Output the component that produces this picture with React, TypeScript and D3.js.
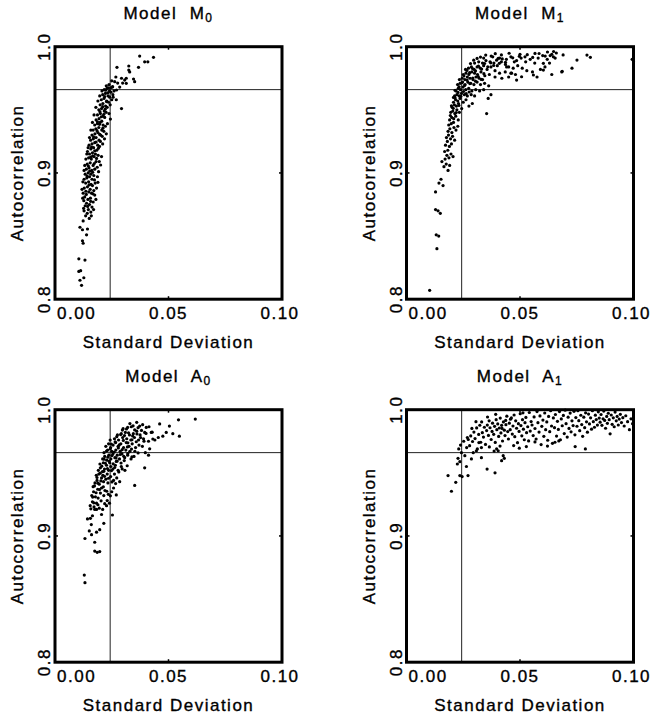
import React, { useEffect, useRef } from 'react';
import * as d3 from 'd3';

// axis ticks and labels shared by all four panels
const xTicks = [0, 0.05, 0.1];
const xTickLabels = ['0.00', '0.05', '0.10'];
const yTicks = [0.8, 0.9, 1.0];
const yTickLabels = ['0.8', '0.9', '1.0'];

// reference lines
const refX = 0.0243;
const refY = 0.966;

const panelNames = ['M', 'M', 'A', 'A'];
const panelSubs = ['0', '1', '0', '1'];

// [standard deviation, autocorrelation]
const m0Points = [
  [.0105,.832],[.0132,.831],[.0105,.822],[.0113,.8226],[.011,.815],[.0127,.817],[.0117,.811],
  [.0124,.862],[.011,.857],[.0121,.855],[.0143,.8556],[.0139,.851],[.0121,.8463],[.0124,.8443],
  [.0135,.866],[.0142,.868],[.0151,.864],[.0128,.870],[.0147,.871],[.0158,.869],[.0133,.874],[.0139,.876],
  [.0152,.875],[.0163,.873],[.0127,.878],[.0145,.879],[.0168,.877],[.0175,.8825],[.0131,.881],[.0156,.880],
  [.0124,.884],[.0138,.883],[.0149,.885],[.0161,.884],[.0171,.886],[.0129,.888],[.0143,.889],[.0155,.887],
  [.0165,.890],[.0135,.892],[.0148,.893],[.0159,.891],[.0177,.892],[.0189,.8926],[.0128,.895],[.0140,.896],
  [.0152,.897],[.0163,.895],[.0133,.899],[.0146,.900],[.0158,.899],[.0171,.898],
  [.0138,.903],[.0150,.904],[.0162,.902],[.0175,.903],[.0201,.9063],[.0142,.907],[.0155,.908],[.0168,.906],
  [.0181,.909],[.0136,.911],[.0148,.912],[.0160,.911],[.0172,.913],[.0152,.915],[.0165,.916],[.0178,.915],
  [.0190,.914],[.0143,.917],[.0158,.919],[.0170,.920],[.0184,.918],[.0196,.921],
  [.0150,.922],[.0163,.923],[.0175,.924],[.0188,.922],[.0200,.925],[.0157,.926],[.0169,.927],[.0181,.928],
  [.0194,.926],[.0208,.929],[.0163,.930],[.0176,.931],[.0189,.932],[.0201,.930],[.0215,.933],[.0168,.934],
  [.0180,.935],[.0193,.936],[.0206,.934],[.0222,.937],[.0175,.938],[.0187,.939],[.0199,.940],[.0212,.938],
  [.0181,.942],[.0194,.943],[.0206,.941],[.0219,.944],[.0244,.9427],[.0187,.946],[.0200,.947],[.0212,.945],
  [.0225,.948],[.0193,.950],[.0205,.951],[.0217,.949],[.0230,.952],[.0293,.951],[.0199,.954],[.0211,.955],
  [.0223,.953],[.0236,.956],[.0204,.958],[.0216,.959],[.0228,.957],[.0241,.960],[.0210,.962],[.0222,.963],
  [.0234,.961],[.0246,.964],[.0217,.966],[.0229,.967],[.0240,.965],[.0252,.968],[.0226,.969],[.0238,.970],
  [.0263,.9723],[.0254,.9683],[.0271,.9657],[.0276,.9712],[.0285,.968],[.0298,.9712],[.0307,.9736],
  [.0314,.971],[.0293,.975],[.0346,.9744],[.0351,.9723],[.0273,.9837],[.0325,.9847],[.0325,.9815],
  [.0329,.980],[.0368,.9837],[.0373,.9926],[.0409,.988],[.0434,.9916],[.0250,.973],[.0268,.976],
  [.0256,.960],[.0270,.958],[.0314,.975],[.0395,.988],
  [.0126,.872],[.0160,.866],[.0170,.871],[.0122,.880],[.0180,.879],[.0119,.887],[.0183,.888],[.0123,.893],
  [.0187,.897],[.0128,.902],[.0192,.901],[.0131,.906],[.0195,.909],[.0140,.915],[.0205,.913],[.0146,.920],
  [.0210,.923],[.0152,.928],[.0218,.927],[.0158,.934],[.0226,.931],[.0165,.940],[.0231,.939],[.0172,.946],
  [.0238,.947],[.0180,.952],[.0243,.954],[.0189,.957],[.0250,.958],[.0197,.961],[.0255,.962],[.0207,.965],
  [.0260,.965],
  [.0144,.8735],[.0157,.8775],[.0136,.8855],[.0167,.8835],[.0150,.8905],[.0174,.8945],[.0141,.8975],
  [.0166,.9005],[.0153,.9015],[.0147,.9055],[.0173,.9075],[.0186,.9045],[.0157,.9125],[.0183,.9115],
  [.0166,.9135],[.0175,.9175],[.0161,.9205],[.0191,.9195],[.0181,.9245],[.0170,.9285],[.0197,.9305],
  [.0185,.9335],[.0211,.9355],[.0196,.9385],[.0187,.9405],[.0204,.9445],[.0215,.9465],[.0198,.9485],
  [.0221,.9505],[.0210,.9525],[.0227,.9565],[.0219,.9605],[.0232,.9635],[.0223,.9655],[.0245,.9675],
  [.0235,.9675]
];

const m1Points = [
  [.0102,.807],[.0134,.840],[.0131,.851],[.0142,.850],[.0128,.871],[.0139,.870],[.0149,.868],[.0128,.885],
  [.0143,.892],[.0161,.890],[.0152,.895],
  [.0156,.909],[.0165,.905],[.0175,.907],[.0183,.902],[.0190,.906],[.0170,.911],[.0178,.914],[.0187,.912],
  [.0196,.915],[.0168,.917],[.0182,.918],[.0205,.913],
  [.0172,.922],[.0180,.925],[.0189,.921],[.0198,.923],[.0176,.928],[.0185,.930],[.0194,.927],[.0203,.929],
  [.0212,.926],[.0183,.933],[.0191,.935],[.0200,.932],[.0209,.936],[.0218,.934],[.0186,.938],[.0197,.939],
  [.0207,.940],[.0226,.937],
  [.0190,.942],[.0199,.944],[.0208,.943],[.0217,.945],[.0228,.942],[.0195,.948],[.0204,.949],[.0213,.947],
  [.0222,.950],[.0233,.948],[.0201,.952],[.0211,.954],[.0220,.953],[.0229,.955],[.0243,.951],[.0207,.956],
  [.0216,.958],[.0226,.957],[.0236,.959],[.0250,.956],[.0262,.958],[.0353,.947],[.0290,.955],[.0275,.953],
  [.0212,.961],[.0222,.962],[.0232,.961],[.0242,.963],[.0255,.962],[.0268,.961],[.0285,.962],[.0300,.961],
  [.0360,.959],[.0372,.962],[.0218,.965],[.0228,.967],[.0238,.966],[.0249,.968],[.0261,.966],[.0274,.967],
  [.0288,.965],[.0305,.966],[.0322,.965],[.0340,.966],[.0225,.970],[.0236,.971],[.0247,.972],[.0258,.970],
  [.0270,.972],[.0283,.971],[.0297,.970],[.0311,.972],[.0326,.970],[.0344,.971],[.0362,.969],[.0233,.974],
  [.0245,.975],[.0257,.974],[.0268,.976],[.0280,.975],[.0293,.974],[.0306,.976],[.0320,.975],[.0335,.974],
  [.0250,.978],[.0262,.979],[.0275,.978],[.0288,.980],[.0300,.979],[.0313,.978],[.0328,.980],[.0345,.977],
  [.0365,.978],[.0390,.976],[.0420,.975],[.0450,.976],[.0260,.982],[.0273,.983],[.0286,.984],[.0298,.982],
  [.0311,.984],[.0325,.983],[.0340,.985],[.0355,.982],[.0372,.984],[.0390,.981],[.0410,.979],[.0435,.980],
  [.0460,.979],[.0480,.978],[.0300,.987],[.0318,.988],[.0335,.987],[.0350,.989],[.0368,.988],[.0385,.987],
  [.0400,.985],[.0418,.988],[.0436,.986],[.0450,.984],[.0470,.983],[.0490,.985],[.0510,.983],[.0530,.981],
  [.0555,.980],
  [.0340,.991],[.0380,.992],[.0410,.991],[.0440,.990],[.0460,.992],[.0485,.989],[.0505,.991],[.0525,.988],
  [.0545,.990],[.0565,.987],[.0580,.991],[.0600,.993],[.0620,.990],[.0640,.994],[.0655,.991],[.0660,.995],
  [.0630,.987],[.0610,.984],[.0590,.982],[.0640,.978],[.0575,.976],[.0684,.980],[.0729,.983],[.0751,.9894],
  [.0795,.9934],[.0810,.9916],[.0994,.990],[.1000,.988],[.0690,.9935],[.0500,.994],[.0475,.988],
  [.0404,.9908],[.0522,.992],[.0566,.9947],[.0611,.9926],[.0633,.993],[.0647,.992],[.0603,.9868],
  [.0603,.9815],[.0559,.9776],[.0485,.9736],[.0507,.9762],[.0463,.979],[.0441,.984],[.0686,.9805],
  [.0193,.9455],[.0206,.9512],[.0219,.9478],[.0231,.9535],[.0214,.9594],[.0227,.9638],[.0239,.9607],
  [.0251,.9645],[.0263,.9628],[.0276,.9641],[.0232,.9682],[.0244,.9715],[.0256,.9693],[.0267,.9736],
  [.0279,.9708],[.0292,.9752],[.0304,.9727],[.0316,.9764],[.0329,.9741],[.0341,.9786],[.0253,.9768],
  [.0266,.9812],[.0278,.9794],[.0291,.9827],[.0304,.9808],[.0317,.9846],[.0331,.9823],[.0344,.9867],
  [.0358,.9841],[.0371,.9872],[.0384,.9851],[.0397,.9893],[.0409,.9868],[.0422,.9903],[.0436,.9877],
  [.0282,.9866],[.0296,.9893],[.0311,.9907],[.0326,.9918],[.0349,.9934],[.0373,.9926],[.0391,.9945],
  [.0418,.9935],[.0452,.9948],[.0468,.9912],[.0497,.9924],[.0532,.9937],[.0556,.9915],[.0584,.9946],
  [.0621,.9958],[.0648,.9962],[.0214,.9655],[.0207,.9598],[.0198,.9532]
];

const a0Points = [
  [.0129,.869],[.0132,.863],[.0132,.898],[.0151,.904],[.0161,.901],[.0175,.888],[.0186,.887],[.0197,.8876],
  [.0175,.895],[.0183,.903],[.0197,.905],[.0215,.910],[.0143,.9135],[.0156,.914],[.0165,.916],[.0175,.921],
  [.0253,.9166],[.0270,.9325],[.0351,.940],[.0395,.954],[.0160,.909],[.0205,.917],
  [.0183,.921],[.0190,.930],[.0200,.934],[.0215,.932],[.0183,.926],[.0195,.922],[.0210,.921],[.0227,.924],
  [.0155,.924],[.0165,.927],[.0172,.923],[.0230,.928],[.0240,.926],
  [.0162,.932],[.0170,.935],[.0178,.931],[.0188,.937],[.0205,.938],[.0220,.936],[.0235,.933],[.0250,.935],
  [.0168,.939],[.0258,.938],
  [.0176,.942],[.0185,.944],[.0195,.941],[.0205,.946],[.0214,.943],[.0224,.945],[.0233,.942],[.0245,.947],
  [.0258,.944],[.0272,.946],[.0285,.943],[.0182,.948],[.0193,.949],[.0211,.948],[.0230,.949],[.0262,.949],
  [.0191,.952],[.0200,.954],[.0209,.951],[.0218,.953],[.0227,.956],[.0236,.952],[.0246,.955],[.0255,.953],
  [.0266,.956],[.0278,.952],[.0292,.955],[.0308,.952],[.0198,.957],[.0213,.958],[.0241,.958],[.0270,.959],
  [.0210,.961],[.0219,.963],[.0228,.960],[.0237,.964],[.0246,.961],[.0255,.965],[.0264,.962],[.0274,.964],
  [.0284,.961],[.0295,.965],[.0307,.962],[.0320,.964],[.0335,.961],[.0348,.963],[.0216,.966],[.0232,.968],
  [.0250,.967],[.0268,.968],[.0287,.967],[.0312,.968],[.0330,.967],[.0398,.966],[.0412,.964],[.0417,.969],
  [.0224,.971],[.0236,.973],[.0245,.970],[.0256,.972],[.0267,.974],[.0278,.971],[.0290,.973],[.0302,.970],
  [.0314,.974],[.0326,.971],[.0340,.973],[.0355,.970],[.0370,.972],[.0385,.971],[.0243,.976],[.0262,.977],
  [.0280,.976],[.0298,.978],[.0316,.977],[.0334,.976],[.0350,.978],[.0368,.976],[.0390,.977],
  [.0275,.980],[.0292,.981],[.0310,.982],[.0328,.980],[.0345,.981],[.0360,.983],[.0375,.980],[.0395,.982],
  [.0300,.985],[.0320,.986],[.0336,.9865],[.0351,.984],[.0373,.987],[.0402,.986],[.0424,.982],[.0431,.9768],
  [.0461,.9887],[.0475,.979],[.0490,.982],[.0504,.987],[.0519,.981],[.0548,.979],[.0544,.992],[.0618,.9926],
  [.0412,.975],[.0440,.976],[.0455,.978],[.0330,.989],[.0360,.990],
  [.0158,.9215],[.0171,.9262],[.0189,.9247],[.0203,.9278],[.0219,.9256],[.0166,.9308],[.0181,.9342],
  [.0196,.9367],[.0213,.9389],[.0228,.9354],[.0244,.9318],[.0174,.9396],[.0189,.9418],[.0202,.9436],
  [.0218,.9472],[.0236,.9457],[.0251,.9428],[.0267,.9415],[.0185,.9463],[.0199,.9497],[.0215,.9512],
  [.0231,.9534],[.0249,.9518],[.0263,.9542],[.0281,.9507],[.0296,.9531],[.0206,.9553],[.0222,.9576],
  [.0239,.9592],[.0256,.9571],[.0274,.9593],[.0291,.9578],[.0305,.9597],[.0318,.9556],[.0216,.9608],
  [.0233,.9624],[.0251,.9637],[.0269,.9618],[.0287,.9645],[.0303,.9631],[.0321,.9653],[.0339,.9627],
  [.0227,.9672],[.0244,.9691],[.0261,.9664],[.0279,.9697],[.0296,.9683],[.0319,.9705],[.0337,.9688],
  [.0352,.9671],[.0366,.9658],[.0248,.9728],[.0265,.9745],[.0283,.9721],[.0301,.9757],[.0321,.9738],
  [.0339,.9762],[.0358,.9746],[.0377,.9779],[.0392,.9751],[.0272,.9786],[.0289,.9803],[.0306,.9795],
  [.0324,.9817],[.0342,.9792],[.0361,.9808],[.0381,.9836],[.0401,.9812],[.0297,.9839],[.0315,.9848],
  [.0344,.9872],[.0366,.9858],[.0386,.9881],[.0414,.9865],[.0428,.9822]
];

const a1Points = [
  [.0183,.9478],[.0198,.9354],[.0217,.9425],[.0235,.9478],[.0245,.947],[.0271,.9478],[.0224,.957],
  [.0235,.9588],[.0227,.9615],[.0230,.9689],[.0242,.966],[.0257,.9636],[.0264,.955],[.0286,.961],
  [.0294,.966],[.0308,.9675],[.0330,.962],[.0355,.953],[.0390,.950],[.0419,.9596],[.0431,.9615],
  [.0426,.9636],[.0404,.9675],[.0397,.969],[.0330,.970],[.0319,.974],[.0238,.972],[.0252,.975],
  [.0265,.970],[.0268,.978],
  [.0278,.9715],[.0283,.9792],[.0291,.9748],[.0297,.9823],[.0302,.9771],[.0309,.9856],[.0312,.9689],
  [.0318,.9804],[.0323,.9877],[.0327,.9742],[.0334,.9818],[.0339,.9783],[.0343,.9861],[.0348,.9725],
  [.0288,.9852],[.0306,.9905],[.0331,.9903],[.0272,.9764],
  [.0353,.9835],[.0356,.9878],[.0361,.9796],[.0364,.9912],[.0368,.9857],[.0373,.9764],[.0377,.9828],
  [.0379,.9893],[.0384,.9805],[.0388,.9868],[.0391,.9741],[.0395,.9921],[.0398,.9842],[.0402,.9887],
  [.0406,.9788],[.0409,.9855],[.0413,.9934],[.0416,.9816],[.0419,.9876],[.0423,.9752],[.0427,.9903],
  [.0431,.9838],[.0434,.9795],[.0438,.9881],[.0442,.9949],[.0446,.9827],[.0449,.9768],[.0365,.9705],
  [.0386,.9672],[.0412,.9712],[.0357,.9942],[.0393,.9963],[.0421,.9852],[.0437,.9915],
  [.0453,.9893],[.0457,.9842],[.0462,.9935],[.0466,.9807],[.0469,.9871],[.0474,.9958],[.0477,.9786],
  [.0481,.9912],[.0485,.9853],[.0489,.9739],[.0493,.9889],[.0496,.9828],[.0501,.9968],[.0504,.9874],
  [.0508,.9793],[.0511,.9921],[.0515,.9846],[.0519,.9762],[.0522,.9897],[.0526,.9939],[.0529,.9818],
  [.0534,.9865],[.0538,.9753],[.0541,.9978],[.0545,.9831],[.0549,.9906],[.0472,.9716],[.0497,.9695],
  [.0528,.9708],[.0458,.9925],[.0513,.9975],
  [.0553,.9879],[.0558,.9795],[.0562,.9943],[.0566,.9851],[.0571,.9768],[.0575,.9985],[.0579,.9897],
  [.0584,.9823],[.0588,.9951],[.0593,.9724],[.0596,.9868],[.0601,.9918],[.0605,.9789],[.0609,.9974],
  [.0613,.9842],[.0618,.9903],[.0622,.9758],[.0626,.9947],[.0631,.9826],[.0635,.9992],[.0639,.9871],
  [.0643,.9734],[.0647,.9935],[.0566,.9745],[.0621,.9712],
  [.0652,.9858],[.0656,.9962],[.0661,.9791],[.0665,.9908],[.0669,.9844],[.0674,.9985],[.0678,.9762],
  [.0682,.9927],[.0686,.9873],[.0691,.9955],[.0695,.9811],[.0699,.9996],[.0703,.9889],[.0708,.9783],
  [.0712,.9941],[.0716,.9852],[.0721,.9973],[.0725,.9825],[.0729,.9912],[.0734,.9874],[.0738,.9987],
  [.0742,.9801],[.0746,.9938],[.0654,.9742],[.0671,.9753],
  [.0751,.9869],[.0755,.9992],[.0759,.9913],[.0763,.9834],[.0768,.9956],[.0772,.9882],[.0776,.9789],
  [.0781,.9941],[.0785,.9858],[.0789,.9975],[.0793,.9904],[.0797,.9822],[.0802,.9965],[.0806,.9887],
  [.0811,.9936],[.0815,.9846],[.0819,.9992],[.0823,.9905],[.0828,.9861],[.0832,.9957],[.0836,.9922],
  [.0841,.9878],[.0845,.9983],[.0849,.9934],[.0743,.9708],[.0788,.9689],
  [.0853,.9901],[.0857,.9962],[.0861,.9876],[.0866,.9928],[.0869,.9989],[.0873,.9915],[.0877,.9853],
  [.0882,.9947],[.0885,.9892],[.0889,.9972],[.0893,.9921],[.0897,.9809],[.0902,.9958],[.0906,.9884],
  [.0911,.9936],[.0915,.9865],[.0919,.9981],[.0924,.9912],[.0928,.9947],[.0933,.9879],[.0937,.9926],
  [.0942,.9963],[.0947,.9898],[.0953,.9937],[.0959,.9871],[.0966,.9952],[.0974,.9905],[.0982,.9842],
  [.0989,.9928],[.0996,.9889]
];

const App = () => {
  const ref = useRef(null);
  const width = 650;
  const height = 718;

  useEffect(() => {
    const svg = d3.select(ref.current);
    svg.selectAll('*').remove();

    const boxW = 227;
    const boxH = 252.5;
    const lefts = [55, 406.5];
    const tops = [46.7, 409.7];
    const font = '"Liberation Sans", Arial, sans-serif';
    const allData = [m0Points, m1Points, a0Points, a1Points];

    allData.forEach((pts, i) => {
      const left = lefts[i % 2];
      const top = tops[Math.floor(i / 2)];
      const x = d3.scaleLinear().domain([0, 0.1]).range([0, boxW]);
      const y = d3.scaleLinear().domain([0.8, 1.0]).range([boxH, 0]);

      const g = svg.append('g').attr('transform', `translate(${left},${top})`);

      // reference lines
      g.append('line')
        .attr('x1', x(refX)).attr('x2', x(refX))
        .attr('y1', 0).attr('y2', boxH)
        .attr('stroke', '#222').attr('stroke-width', 1);
      g.append('line')
        .attr('x1', 0).attr('x2', boxW)
        .attr('y1', y(refY)).attr('y2', y(refY))
        .attr('stroke', '#222').attr('stroke-width', 1);

      // points
      g.selectAll('circle')
        .data(pts)
        .enter()
        .append('circle')
        .attr('cx', d => x(d[0]))
        .attr('cy', d => y(d[1]))
        .attr('r', 1.6)
        .attr('fill', '#000');

      // frame
      g.append('rect')
        .attr('width', boxW).attr('height', boxH)
        .attr('fill', 'none').attr('stroke', '#000').attr('stroke-width', 3);

      // small inward ticks at the middle values
      [0, boxH].forEach(yy => {
        g.append('line')
          .attr('x1', x(0.05)).attr('x2', x(0.05))
          .attr('y1', yy).attr('y2', yy === 0 ? 3 : boxH - 3)
          .attr('stroke', '#000').attr('stroke-width', 1.5);
      });
      [0, boxW].forEach(xx => {
        g.append('line')
          .attr('x1', xx).attr('x2', xx === 0 ? 3 : boxW - 3)
          .attr('y1', y(0.9)).attr('y2', y(0.9))
          .attr('stroke', '#000').attr('stroke-width', 1.5);
      });

      const text = (sel) => sel
        .attr('font-family', font)
        .attr('font-size', 17)
        .attr('letter-spacing', 1.5)
        .attr('fill', '#000')
        .attr('stroke', '#000')
        .attr('stroke-width', 0.35);

      // x tick labels
      const anchors = ['start', 'middle', 'middle'];
      const shifts = [2, 0, -2];
      xTicks.forEach((t, k) => {
        g.append('text')
          .call(text)
          .attr('x', x(t) + shifts[k])
          .attr('y', boxH + 20)
          .attr('text-anchor', anchors[k])
          .text(xTickLabels[k]);
      });

      // y tick labels (rotated)
      yTicks.forEach((t, k) => {
        g.append('text')
          .call(text)
          .attr('transform', `translate(-5,${y(t)}) rotate(-90)`)
          .attr('text-anchor', 'middle')
          .text(yTickLabels[k]);
      });

      // axis titles
      g.append('text')
        .call(text)
        .attr('x', boxW / 2)
        .attr('y', boxH + 49)
        .attr('text-anchor', 'middle')
        .text('Standard Deviation');

      g.append('text')
        .call(text)
        .attr('transform', `translate(-32,${boxH / 2}) rotate(-90)`)
        .attr('text-anchor', 'middle')
        .text('Autocorrelation');

      // panel title
      const title = g.append('text')
        .call(text)
        .attr('x', boxW / 2)
        .attr('y', -28)
        .attr('text-anchor', 'middle')
        .style('white-space', 'pre');
      title.append('tspan').text(`Model  ${panelNames[i]}`);
      title.append('tspan')
        .attr('font-size', 12)
        .attr('dy', 3)
        .text(panelSubs[i]);
    });
  }, []);

  return (
    <svg
      ref={ref}
      width={width}
      height={height}
      style={{ position: 'absolute', left: 0, top: 0, background: '#fff' }}
    />
  );
};

export default App;
